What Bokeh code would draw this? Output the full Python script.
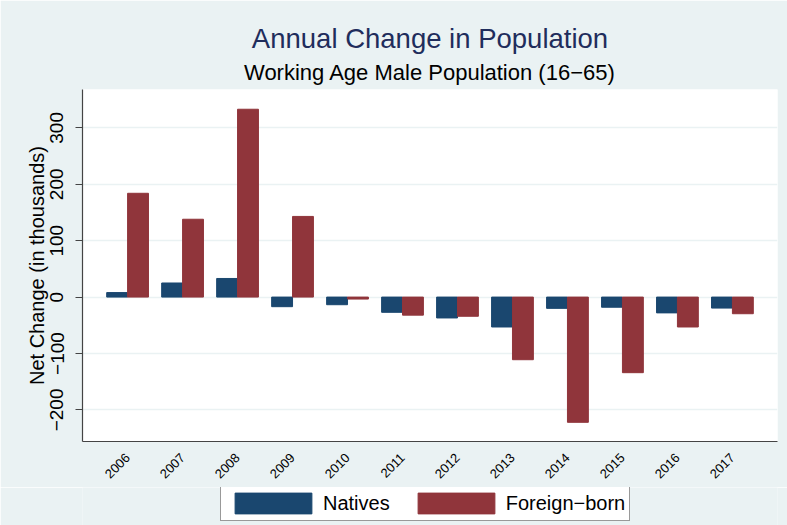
import math
from bokeh.plotting import figure
from bokeh.layouts import column
from bokeh.models import (Range1d, FixedTicker, Legend, LegendItem, Title,
                          ColumnDataSource)
from bokeh.transform import dodge
from bokeh.embed import file_html
from bokeh.resources import INLINE

# ---- data ----
years = ["2006", "2007", "2008", "2009", "2010", "2011",
         "2012", "2013", "2014", "2015", "2016", "2017"]
natives = [8, 25, 33, -17, -13.5, -27, -37, -53, -20, -18, -28, -19.5]
foreign_born = [184, 138, 333, 143, -3.5, -32, -34, -111, -222, -134, -53, -29.5]
y_ticks = [-200, -100, 0, 100, 200, 300]

title_text = "Annual Change in Population"
subtitle_text = "Working Age Male Population (16\u221265)"
y_label = "Net Change (in thousands)"
series_names = ["Natives", "Foreign\u2212born"]

FONT = "Liberation Sans"
BG = "#eaf2f3"
NAVY = "#1a476f"
MAROON = "#90353b"
AXIS = "#444444"

idx = list(range(len(years)))
src = ColumnDataSource(dict(idx=idx, natives=natives, foreign=foreign_born))

p = figure(width=787, height=487, output_backend="svg", toolbar_location=None,
           x_range=Range1d(-0.82, 11.82), y_range=Range1d(-256, 368),
           min_border_left=82, min_border_right=10, min_border_top=89,
           min_border_bottom=46, title=title_text)

p.border_fill_color = BG
p.background_fill_color = "white"
p.outline_line_color = None

# titles
p.title.text_font = FONT
p.title.text_font_size = "27.5px"
p.title.text_font_style = "normal"
p.title.text_color = "#1f2d5c"
p.title.align = "center"
p.title.standoff = 0
sub = Title(text=subtitle_text, align="center", text_font=FONT,
            text_font_size="22px", text_font_style="normal",
            text_color="#000000", standoff=9)
p.add_layout(sub, "above")

# bars
r1 = p.vbar(x=dodge("idx", -0.19, range=p.x_range), top="natives", width=0.38,
            source=src, fill_color=NAVY, line_color=NAVY)
r2 = p.vbar(x=dodge("idx", 0.19, range=p.x_range), top="foreign", width=0.38,
            source=src, fill_color=MAROON, line_color=MAROON)

# y axis
yt = FixedTicker(ticks=y_ticks)
p.yaxis.ticker = yt
p.ygrid.ticker = yt
p.yaxis.major_label_overrides = {t: str(t).replace("-", "\u2212") for t in y_ticks}
p.yaxis.axis_label = y_label
p.yaxis.axis_label_text_font = FONT
p.yaxis.axis_label_text_font_size = "20px"
p.yaxis.axis_label_text_font_style = "normal"
p.yaxis.axis_label_text_color = "#000000"
p.yaxis.axis_label_standoff = 0
p.yaxis.major_label_text_font = FONT
p.yaxis.major_label_text_font_size = "19px"
p.yaxis.major_label_text_color = "#000000"
p.yaxis.major_label_orientation = "vertical"
p.yaxis.major_label_standoff = 12
p.yaxis.major_tick_out = 7
p.yaxis.major_tick_in = 0
p.yaxis.minor_tick_out = 0
p.yaxis.minor_tick_in = 0
p.yaxis.axis_line_color = AXIS
p.yaxis.major_tick_line_color = AXIS
p.yaxis.axis_line_width = 1.2

# x axis
p.xaxis.ticker = FixedTicker(ticks=idx)
p.xaxis.major_label_overrides = {i: y for i, y in zip(idx, years)}
p.xaxis.major_label_orientation = math.pi / 4
p.xaxis.major_label_text_font = FONT
p.xaxis.major_label_text_font_size = "13px"
p.xaxis.major_label_text_color = "#000000"
p.xaxis.major_label_standoff = 14
p.xaxis.major_tick_out = 0
p.xaxis.major_tick_in = 0
p.xaxis.minor_tick_out = 0
p.xaxis.minor_tick_in = 0
p.xaxis.axis_line_color = AXIS
p.xaxis.axis_line_width = 1.2

# grid
p.xgrid.visible = False
p.ygrid.grid_line_color = BG
p.ygrid.grid_line_width = 1.5

# ---- legend strip below the chart ----
# key renderers use the same data, but this strip's y range lies above all
# bar tops, so only their legend swatches are visible
lg = figure(width=787, height=38, output_backend="svg", toolbar_location=None,
            x_range=Range1d(-0.82, 11.82), y_range=Range1d(1000, 1001),
            min_border_left=82, min_border_right=10, min_border_top=0,
            min_border_bottom=0, x_axis_location=None, y_axis_location=None)
lg.border_fill_color = BG
lg.background_fill_color = BG
lg.outline_line_color = None
lg.xgrid.visible = False
lg.ygrid.visible = False
k1 = lg.vbar(x=dodge("idx", -0.19, range=lg.x_range), top="natives", width=0.38,
             source=src, fill_color=NAVY, line_color=NAVY)
k2 = lg.vbar(x=dodge("idx", 0.19, range=lg.x_range), top="foreign", width=0.38,
             source=src, fill_color=MAROON, line_color=MAROON)

legend = Legend(items=[LegendItem(label=series_names[0], renderers=[k1]),
                       LegendItem(label=series_names[1], renderers=[k2])],
                location=(138, 4), orientation="horizontal",
                margin=0, padding=4, spacing=18,
                glyph_width=96, glyph_height=26, label_standoff=2,
                label_text_font=FONT, label_text_font_size="20px",
                label_text_color="#000000",
                border_line_color="#333333", border_line_width=1,
                background_fill_color="white", background_fill_alpha=1.0)
lg.add_layout(legend, "center")

layout = column(p, lg, spacing=0)
open("out.html", "w").write(file_html(layout, INLINE))
